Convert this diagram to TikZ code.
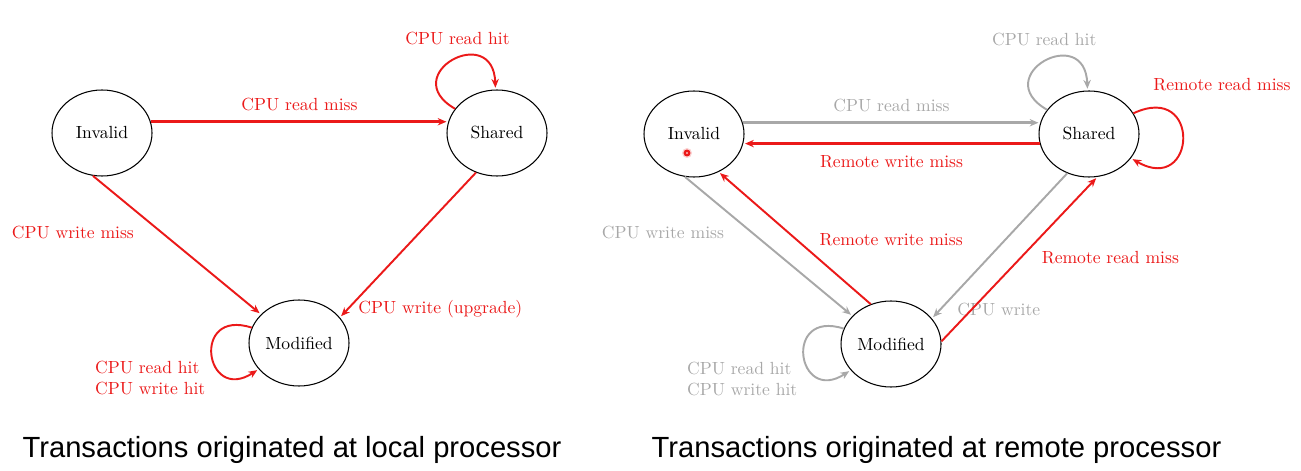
\documentclass[tikz,border=0pt]{standalone}
\usepackage{fontspec}
\newfontfamily\capfont{Liberation Sans}
\usetikzlibrary{automata, positioning, shapes.geometric, arrows.meta}
\definecolor{busred}{RGB}{235,25,25}
\definecolor{busgray}{RGB}{168,168,168}

\begin{document}
\begin{tikzpicture}[shorten >= 1pt, node distance = 7.9cm, on grid, auto,
    >={Stealth[length=5pt, width=4.2pt]},
    every state/.style={draw=black, line width=0.6pt, minimum width=2cm, minimum height=1.72cm, inner sep=0pt},
    hit/.style={busred, line width=1.1pt},
    idle/.style={busgray, line width=1.1pt},
    wide/.style={line width=1.8pt},
    caption/.style={font=\capfont\fontsize{16.6}{20}\selectfont, anchor=base}]
  \useasboundingbox (0,0) rectangle (26.02,-9.42);

  % local processor
  \node[state, ellipse] (inv) at (2.04,-2.66) {Invalid};
  \node[state, ellipse] [right=of inv] (sha) {Shared};
  \node[state, ellipse] [below right=4.2cm and 3.94cm of inv] (mod) {Modified};
  \node[caption] (cap) at (5.84,-9.14) {Transactions originated at local processor};
  \path[->]
    (inv.13)  edge [hit, wide] node[above=2pt] (rm) {CPU read miss} (sha.167)
    (inv.258) edge [hit] node[pos=0.41, left=12pt] (wm) {CPU write miss} (mod.143)
    (sha.242) edge [hit] node[pos=0.94, right=2pt] (up) {CPU write (upgrade)} (mod.32)
    (sha) edge [hit, out=150, in=92, looseness=3.9] node[above=5pt, xshift=3pt] (rh) {CPU read hit} (sha)
    (mod) edge [hit, out=162, in=213, looseness=3.9] node[below left, align=left] (wh) {CPU read hit\\CPU write hit} (mod);

  % remote processor
  \node[state, ellipse] (inv2) at (13.88,-2.68) {Invalid};
  \node[state, ellipse] [right=of inv2] (sha2) {Shared};
  \node[state, ellipse] [below right=4.2cm and 3.94cm of inv2] (mod2) {Modified};
  \node[caption] (cap2) at (18.73,-9.14) {Transactions originated at remote processor};
  \coordinate [below left=0.38cm and 0.14cm of inv2] (ptr);
  \fill[busred!20] (ptr) circle (0.1);
  \draw[busred, line width=1.3pt] (ptr) circle (0.045);
  \path[->]
    (inv2.13)  edge [idle, wide] node[above=2pt] (rm2) {CPU read miss} (sha2.167)
    (sha2.191) edge [hit, wide] node[below=2.5pt] (xw) {Remote write miss} (inv2.349)
    (inv2.258) edge [idle] node[pos=0.4, left=12pt] (wm2) {CPU write miss} (mod2.144)
    (mod2.117) edge [hit] node[pos=0.49, right=9.5pt] (xw2) {Remote write miss} (inv2.303)
    (sha2.241) edge [idle] node[pos=0.94, right=6pt] (up2) {CPU write} (mod2.32)
    (mod2.3)   edge [hit] node[pos=0.51, right=8pt] (xr) {Remote read miss} (sha2.281)
    (sha2) edge [idle, out=150, in=92, looseness=3.9] node[above=5pt] (rh2) {CPU read hit} (sha2)
    (sha2) edge [hit, out=25, in=-30, looseness=4.3] node[pos=0.1, above right=6pt and -3pt] (xr2) {Remote read miss} (sha2)
    (mod2) edge [idle, out=162, in=213, looseness=3.9] node[below left, align=left] (wh2) {CPU read hit\\CPU write hit} (mod2);
\end{tikzpicture}
\end{document}
